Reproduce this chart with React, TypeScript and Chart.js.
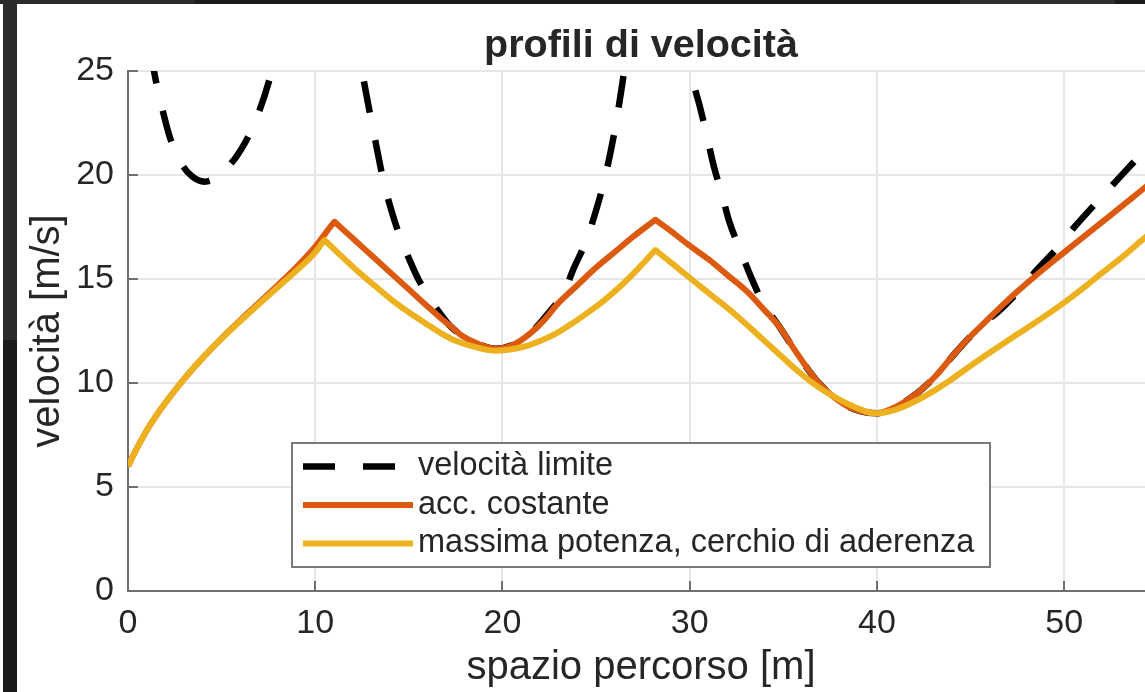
import React, { useEffect, useRef } from "react";
import { Chart, registerables } from "chart.js";

Chart.register(...registerables);

// ---------- data ----------
const chartTitle = "profili di velocità";
const xTitle = "spazio percorso [m]";
const yTitle = "velocità [m/s]";
const seriesLabels = ["velocità limite", "acc. costante", "massima potenza, cerchio di aderenza"];

const xTicks = [0, 10, 20, 30, 40, 50];
const yTicks = [0, 5, 10, 15, 20, 25];

// velocità limite (black dashed)
const limX = [0, 0.5, 1.0, 1.43, 1.8, 2.24, 2.78, 3.4, 4.1, 4.7, 5.3, 5.8, 6.25, 6.9, 7.7, 8.4, 9.2, 10.2, 11.2, 11.9, 12.5, 12.85, 13.2, 13.6, 14.0, 14.5, 15.0, 15.5, 16.0, 16.5, 17.0, 17.2, 17.8, 18.7, 19.65, 20.6, 21.5, 22.4, 23.3, 23.8, 24.5, 25.0, 25.4, 25.75, 26.05, 26.3, 26.5, 26.9, 27.6, 28.3, 29.0, 29.6, 30.04, 30.57, 30.93, 31.28, 31.73, 32.1, 32.7, 33.25, 33.95, 34.8, 35.6, 36.8, 38.2, 39.1, 40.0, 41.0, 42.2, 43.1, 44.0, 44.9, 45.8, 46.5, 47.6, 48.5, 49.6, 50.6, 51.7, 52.75, 53.8, 55.0];
const limV = [34.5, 30.5, 27.2, 24.8, 23.3, 21.8, 20.65, 19.95, 19.68, 19.85, 20.35, 20.9, 21.55, 22.8, 25.05, 27.8, 31.5, 35.0, 32.0, 28.0, 25.0, 23.3, 21.7, 19.9, 18.5, 17.1, 16.0, 15.0, 14.25, 13.55, 12.95, 12.75, 12.3, 11.88, 11.65, 11.85, 12.4, 13.3, 14.4, 15.5, 16.9, 18.3, 19.6, 21.0, 22.4, 23.8, 25.0, 28.0, 33.0, 35.0, 31.0, 27.2, 25.0, 23.2, 21.84, 20.45, 19.05, 17.8, 16.4, 15.15, 13.8, 12.7, 11.6, 10.1, 9.0, 8.65, 8.55, 8.85, 9.55, 10.3, 11.25, 12.15, 12.95, 13.45, 14.45, 15.4, 16.45, 17.55, 18.65, 19.68, 20.7, 21.85];

// acc. costante (orange)
const accX = [0, 0.5, 1.0, 1.5, 2.0, 3.0, 4.0, 5.0, 6.0, 7.0, 8.0, 9.0, 10.0, 10.93, 11.03, 11.13, 12.0, 13.0, 14.0, 15.0, 16.0, 16.6, 17.2, 17.8, 18.7, 19.65, 20.6, 21.5, 22.2, 23.0, 24.0, 25.0, 26.0, 27.0, 28.07, 28.17, 28.27, 29.0, 30.0, 31.0, 32.0, 33.0, 34.0, 34.8, 35.6, 36.8, 38.2, 39.1, 40.0, 41.0, 42.2, 43.1, 44.0, 44.9, 45.8, 46.6, 47.5, 48.4, 49.3, 50.2, 51.1, 52.0, 53.0, 54.0, 55.0];
const accV = [6.0, 6.9, 7.72, 8.42, 9.05, 10.2, 11.22, 12.15, 13.02, 13.86, 14.7, 15.57, 16.55, 17.65, 17.75, 17.67, 16.96, 16.14, 15.32, 14.5, 13.68, 13.2, 12.75, 12.3, 11.88, 11.65, 11.85, 12.4, 13.0, 13.85, 14.7, 15.55, 16.3, 17.05, 17.78, 17.85, 17.78, 17.3, 16.6, 15.95, 15.2, 14.45, 13.5, 12.7, 11.6, 10.1, 9.0, 8.65, 8.55, 8.85, 9.55, 10.3, 11.25, 12.15, 12.95, 13.65, 14.4, 15.1, 15.77, 16.42, 17.07, 17.72, 18.44, 19.17, 19.9];

// massima potenza, cerchio di aderenza (yellow)
const powX = [0, 0.5, 1.0, 1.5, 2.0, 3.0, 4.0, 5.0, 6.0, 7.0, 8.0, 9.0, 10.0, 10.39, 10.49, 10.59, 11.4, 12.3, 13.2, 14.1, 15.0, 15.9, 16.7, 17.5, 18.5, 19.65, 20.5, 21.3, 22.1, 22.9, 23.7, 24.5, 25.4, 26.3, 27.2, 28.07, 28.17, 28.27, 29.4, 30.6, 31.5, 32.4, 33.3, 34.1, 35.0, 35.9, 36.8, 37.7, 38.8, 39.9, 41.0, 42.1, 43.0, 43.9, 44.8, 45.7, 46.6, 47.5, 48.4, 49.3, 50.2, 51.1, 52.0, 53.0, 54.0, 55.0];
const powV = [6.0, 6.9, 7.72, 8.42, 9.05, 10.2, 11.22, 12.13, 12.98, 13.8, 14.6, 15.4, 16.28, 16.76, 16.87, 16.79, 16.1, 15.35, 14.66, 13.99, 13.4, 12.86, 12.4, 12.03, 11.74, 11.55, 11.62, 11.78, 12.05, 12.4, 12.85, 13.35, 13.95, 14.65, 15.45, 16.3, 16.4, 16.32, 15.5, 14.62, 13.98, 13.32, 12.6, 11.94, 11.2, 10.48, 9.85, 9.34, 8.85, 8.54, 8.72, 9.15, 9.6, 10.12, 10.7, 11.26, 11.8, 12.34, 12.87, 13.42, 14.0, 14.62, 15.28, 15.98, 16.75, 17.5];

// ---------- styling ----------
const FONT = '"Liberation Sans", Arial, Helvetica, sans-serif';
const TEXT = "#262626";
const AXIS = "#707070";
const GRID = "#e6e6e6";
const BLACK = "#000000";
const ORANGE = "#DB5A10";
const YELLOW = "#EDB120";
const DASH = [32, 28];

const toPts = (xs: number[], ys: number[]) => xs.map((x, i) => ({ x, y: ys[i] }));

const decorPlugin = {
  id: "decor",
  afterDraw(chart: any) {
    const ctx = chart.ctx as CanvasRenderingContext2D;
    const a = chart.chartArea;
    const xs = chart.scales.x;
    const ys = chart.scales.y;
    ctx.save();
    // inward ticks
    ctx.strokeStyle = AXIS;
    ctx.lineWidth = 2;
    ctx.setLineDash([]);
    xTicks.forEach((t) => {
      const px = Math.round(xs.getPixelForValue(t));
      ctx.beginPath();
      ctx.moveTo(px, a.bottom);
      ctx.lineTo(px, a.bottom - 10);
      ctx.stroke();
    });
    yTicks.forEach((t) => {
      const py = Math.round(ys.getPixelForValue(t));
      ctx.beginPath();
      ctx.moveTo(a.left, py);
      ctx.lineTo(a.left + 10, py);
      ctx.stroke();
    });
    // title
    ctx.fillStyle = TEXT;
    ctx.font = `bold 39.5px ${FONT}`;
    ctx.textAlign = "center";
    ctx.textBaseline = "alphabetic";
    ctx.fillText(chartTitle, (a.left + a.right) / 2, 57);

    // legend
    const bx = 292, by = 443, bw = 698, bh = 124;
    ctx.fillStyle = "#ffffff";
    ctx.fillRect(bx, by, bw, bh);
    ctx.strokeStyle = "#7a7a7a";
    ctx.lineWidth = 2;
    ctx.strokeRect(bx, by, bw, bh);
    chart.data.datasets.forEach((ds: any, i: number) => {
      const y = 466.5 + i * 38.5;
      ctx.save();
      ctx.strokeStyle = ds.borderColor;
      ctx.lineWidth = ds.borderWidth;
      ctx.setLineDash(ds.borderDash || []);
      ctx.lineCap = "butt";
      ctx.beginPath();
      ctx.moveTo(303, y);
      ctx.lineTo(413, y);
      ctx.stroke();
      ctx.restore();
      ctx.fillStyle = TEXT;
      ctx.font = `32.5px ${FONT}`;
      ctx.textAlign = "left";
      ctx.textBaseline = "middle";
      ctx.fillText(ds.label, 418, y);
    });
    ctx.restore();
  },
};

export default function App() {
  const ref = useRef<HTMLCanvasElement | null>(null);

  useEffect(() => {
    if (!ref.current) return;
    const chart = new Chart(ref.current, {
      type: "line",
      data: {
        datasets: [
          {
            label: seriesLabels[0],
            data: toPts(limX, limV),
            borderColor: BLACK,
            borderWidth: 6.5,
            borderDash: DASH,
            cubicInterpolationMode: "monotone",
            pointRadius: 0,
            fill: false,
            order: 3,
          },
          {
            label: seriesLabels[1],
            data: toPts(accX, accV),
            borderColor: ORANGE,
            borderWidth: 6,
            cubicInterpolationMode: "monotone",
            pointRadius: 0,
            fill: false,
            order: 2,
          },
          {
            label: seriesLabels[2],
            data: toPts(powX, powV),
            borderColor: YELLOW,
            borderWidth: 6,
            cubicInterpolationMode: "monotone",
            pointRadius: 0,
            fill: false,
            order: 1,
          },
        ],
      },
      options: {
        responsive: false,
        animation: false,
        devicePixelRatio: 1,
        layout: { padding: { top: 71, left: 0, right: 0, bottom: 0 } },
        plugins: {
          legend: { display: false },
          title: { display: false },
          tooltip: { enabled: false },
        },
        elements: { point: { radius: 0 } },
        scales: {
          x: {
            type: "linear",
            min: 0,
            max: 54.8,
            afterFit: (s: any) => {
              s.height = 101;
            },
            ticks: {
              stepSize: 10,
              includeBounds: false,
              maxRotation: 0,
              color: TEXT,
              padding: 12,
              font: { family: FONT, size: 34 },
            },
            grid: { color: GRID, lineWidth: 2, drawTicks: false },
            border: { color: AXIS, width: 2 },
            title: {
              display: true,
              text: xTitle,
              color: TEXT,
              font: { family: FONT, size: 40 },
              padding: { top: 0, bottom: 0 },
            },
          },
          y: {
            type: "linear",
            min: 0,
            max: 25,
            afterFit: (s: any) => {
              s.width = 128;
            },
            ticks: {
              stepSize: 5,
              includeBounds: false,
              color: TEXT,
              padding: 14,
              font: { family: FONT, size: 34 },
            },
            grid: { color: GRID, lineWidth: 2, drawTicks: false },
            border: { color: AXIS, width: 2 },
            title: {
              display: true,
              text: yTitle,
              color: TEXT,
              font: { family: FONT, size: 40 },
              padding: { top: 24, bottom: 0 },
            },
          },
        },
      },
      plugins: [decorPlugin],
    });
    return () => chart.destroy();
  }, []);

  return (
    <div
      style={{
        position: "fixed",
        left: 0,
        top: 0,
        width: 1145,
        height: 692,
        overflow: "hidden",
        background: "#ffffff",
      }}
    >
      <canvas ref={ref} width={1154} height={692} style={{ position: "absolute", left: 0, top: 0, width: 1154, height: 692 }} />
      <div style={{ position: "absolute", left: 0, top: 0, width: 1145, height: 4, background: "#1c1c1c" }} />
      <div style={{ position: "absolute", left: 0, top: 0, width: 195, height: 4, background: "#2b2b2b" }} />
      <div style={{ position: "absolute", left: 960, top: 0, width: 155, height: 4, background: "#2e2e2e" }} />
      <div style={{ position: "absolute", left: 3, top: 0, width: 14, height: 692, background: "#1b1b1b" }} />
      <div style={{ position: "absolute", left: 3, top: 0, width: 14, height: 340, background: "#2b2b2b" }} />
    </div>
  );
}
